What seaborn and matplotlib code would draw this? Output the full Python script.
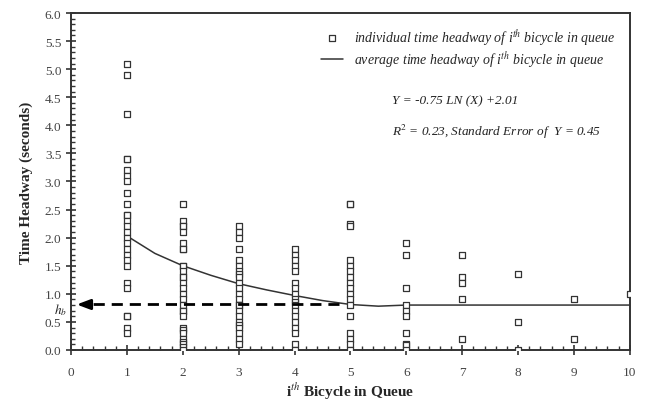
import numpy as np
import pandas as pd
import matplotlib
matplotlib.use("Agg")
import matplotlib.pyplot as plt
from matplotlib.ticker import MultipleLocator
import seaborn as sns

# individual headways, one list per queue position
pos1 = [5.1, 4.9, 4.2, 3.4, 3.4, 3.2, 3.1, 3.0, 2.8, 2.6, 2.4, 2.4, 2.3, 2.2, 2.1, 2.0,
        1.9, 1.8, 1.7, 1.6, 1.5, 1.2, 1.1, 0.6, 0.6, 0.4, 0.3]
pos2 = [2.6, 2.3, 2.2, 2.2, 2.1, 1.9, 1.8, 1.8, 1.5, 1.5, 1.4, 1.3, 1.3, 1.2, 1.1, 1.0,
        0.9, 0.8, 0.7, 0.7, 0.6, 0.4, 0.35, 0.3, 0.2, 0.15, 0.1, 0.05, 0.0]
pos3 = [2.2, 2.1, 2.0, 1.8, 1.6, 1.5, 1.4, 1.35, 1.3, 1.2, 1.1, 1.0, 0.9, 0.8, 0.8,
        0.7, 0.6, 0.5, 0.45, 0.4, 0.3, 0.2, 0.1]
pos4 = [1.8, 1.7, 1.6, 1.5, 1.4, 1.2, 1.1, 1.0, 0.9, 0.85, 0.8, 0.7, 0.6, 0.5, 0.4,
        0.3, 0.1, 0.0]
pos5 = [2.6, 2.6, 2.25, 2.2, 1.6, 1.5, 1.4, 1.3, 1.2, 1.1, 1.0, 0.9, 0.8, 0.6,
        0.3, 0.2, 0.1, 0.0]
pos6 = [1.9, 1.7, 1.1, 0.8, 0.7, 0.6, 0.3, 0.1, 0.08, 0.0]
pos7 = [1.7, 1.3, 1.2, 0.9, 0.2]
pos8 = [1.35, 0.5, 0.0]
pos9 = [0.9, 0.2]
pos10 = [1.0]
positions = [pos1, pos2, pos3, pos4, pos5, pos6, pos7, pos8, pos9, pos10]

# average headway curve
avg_x = [1, 1.5, 2, 2.5, 3, 3.5, 4, 4.5, 5, 5.5, 6, 7, 8, 9, 10]
avg_y = [2.03, 1.72, 1.5, 1.33, 1.18, 1.07, 0.97, 0.88, 0.81, 0.78, 0.80, 0.80, 0.80, 0.80, 0.80]

hb = 0.81          # saturation headway
hb_from = 4.8      # where the dashed arrow starts

pts = pd.DataFrame({
    "position": np.concatenate([[i + 1] * len(p) for i, p in enumerate(positions)]),
    "headway": np.concatenate(positions),
})
avg = pd.DataFrame({"position": avg_x, "headway": avg_y})

sns.set_style("ticks")
plt.rcParams['font.family'] = ['Liberation Serif', 'DejaVu Serif']
plt.rcParams['mathtext.fontset'] = 'stix'

fig = plt.figure(figsize=(6.46, 4.06), dpi=100)
ax = fig.add_axes([0.110, 0.1355, 0.865, 0.830])

sns.scatterplot(data=pts, x="position", y="headway", marker="s", s=22,
                facecolor="white", edgecolor="#333333", linewidth=0.9, ax=ax,
                label="individual time headway of i$^{th}$ bicycle in queue", zorder=3)
sns.lineplot(data=avg, x="position", y="headway", color="#333333", linewidth=1.1, ax=ax,
             label="average time headway of i$^{th}$ bicycle in queue", zorder=2)

# dashed arrow pointing to h_b on the y axis
ax.plot([hb_from, 0.25], [hb, hb], color="black", linestyle=(0, (4, 2.5)), linewidth=2, zorder=4)
ax.annotate("", xy=(0.05, hb), xytext=(0.3, hb),
            arrowprops=dict(arrowstyle="-|>,head_length=0.8,head_width=0.3", color="black", lw=2))
ax.text(-0.08, hb - 0.09, "$\\boldsymbol{h_b}$", ha="right", va="center",
        fontsize=9.5, color="#222222")

ax.text(5.75, 4.40, "Y = -0.75 LN (X) +2.01", style="italic", fontsize=9.5, color="#222222")
ax.text(5.75, 3.83, "R$^2$ = 0.23, Standard Error of  Y = 0.45", style="italic", fontsize=9.5,
        color="#222222")

ax.set_xlim(0, 10)
ax.set_ylim(0, 6)
ax.xaxis.set_major_locator(MultipleLocator(1))
ax.xaxis.set_minor_locator(MultipleLocator(0.2))
ax.yaxis.set_major_locator(MultipleLocator(0.5))
ax.yaxis.set_minor_locator(MultipleLocator(0.1))
ax.yaxis.set_major_formatter(matplotlib.ticker.FormatStrFormatter("%.1f"))
ax.tick_params(which="major", direction="inout", length=7, width=1.2, colors="#333333",
               labelsize=9.5, labelcolor="#444444")
ax.tick_params(which="minor", direction="in", length=3, width=1, colors="#333333")
ax.tick_params(axis="x", which="major", pad=8)
for s in ax.spines.values():
    s.set_linewidth(1.4)
    s.set_color("#333333")

ax.set_xlabel("i$^{th}$ Bicycle in Queue", fontsize=11, fontweight="bold", labelpad=1)
ax.set_ylabel("Time Headway (seconds)", fontsize=11, fontweight="bold", labelpad=8)

leg = ax.legend(loc="upper right", frameon=False, prop={"style": "italic", "size": 10},
                handlelength=1.6, borderaxespad=0.6, labelspacing=0.1)

fig.savefig("out.png", dpi=100)
